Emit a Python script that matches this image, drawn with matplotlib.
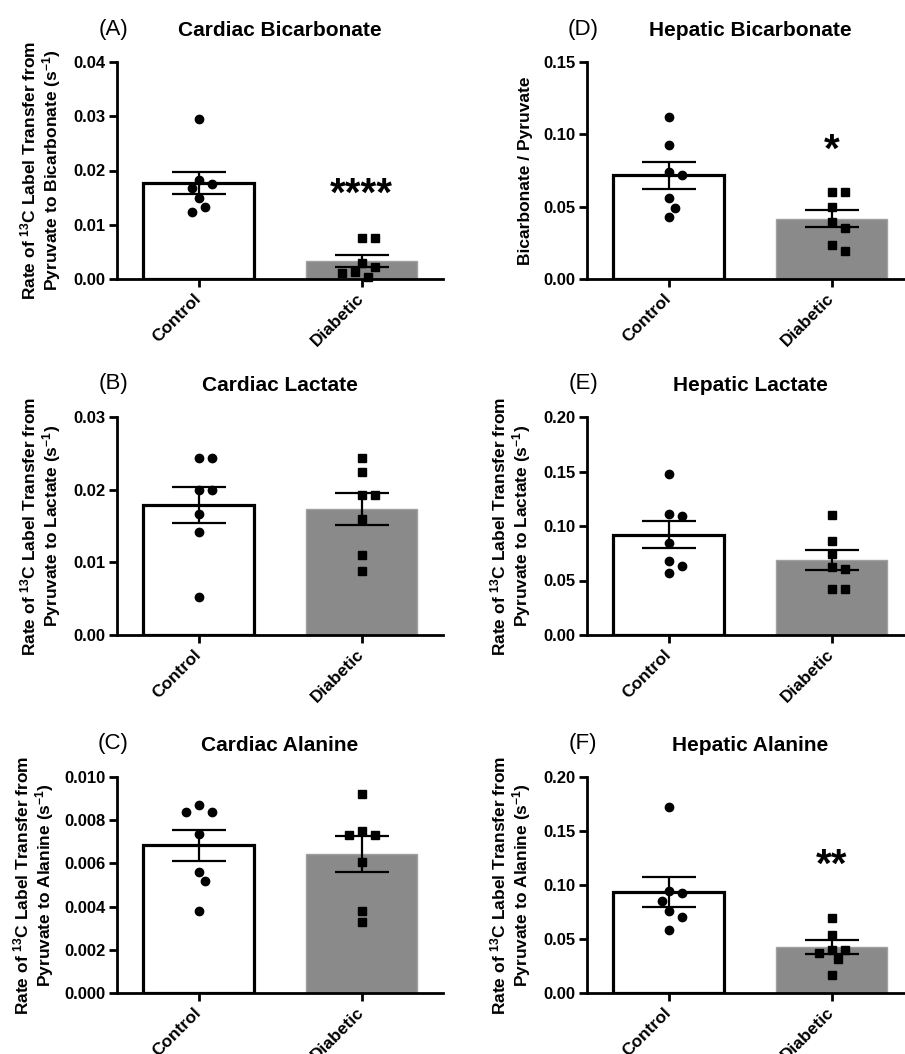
import matplotlib
matplotlib.use('Agg')
import matplotlib.pyplot as plt
from matplotlib.ticker import FormatStrFormatter
import numpy as np

plt.rcParams['font.family'] = ['Liberation Sans', 'DejaVu Sans']
plt.rcParams['font.weight'] = 'bold'
plt.rcParams['mathtext.fontset'] = 'custom'
plt.rcParams['mathtext.rm'] = 'Liberation Sans:bold'
plt.rcParams['mathtext.bf'] = 'Liberation Sans:bold'
plt.rcParams['mathtext.it'] = 'Liberation Sans:bold'
plt.rcParams['mathtext.default'] = 'bf'

groups = ['Control', 'Diabetic']

# ---- data ----
card_bicarb_ctrl = [0.0295, 0.0183, 0.0175, 0.0167, 0.0149, 0.0133, 0.0123]
card_bicarb_diab = [0.0076, 0.0076, 0.0029, 0.0023, 0.0012, 0.0011, 0.0003]
card_bicarb_mean = [0.0177, 0.0034]
card_bicarb_sem = [0.0021, 0.0011]

card_lac_ctrl = [0.0244, 0.0244, 0.0199, 0.0199, 0.0167, 0.0142, 0.0052]
card_lac_diab = [0.0243, 0.0224, 0.0193, 0.0193, 0.0160, 0.0110, 0.0088]
card_lac_mean = [0.0179, 0.0174]
card_lac_sem = [0.0025, 0.0022]

card_ala_ctrl = [0.00871, 0.0084, 0.0084, 0.00737, 0.00558, 0.00518, 0.0038]
card_ala_diab = [0.00922, 0.0075, 0.00731, 0.00731, 0.00608, 0.0038, 0.00329]
card_ala_mean = [0.00683, 0.00643]
card_ala_sem = [0.00073, 0.00082]

hep_bicarb_ctrl = [0.112, 0.0926, 0.0742, 0.0717, 0.0558, 0.0493, 0.0431]
hep_bicarb_diab = [0.0599, 0.0599, 0.0498, 0.0394, 0.0355, 0.0235, 0.0191]
hep_bicarb_mean = [0.0717, 0.0417]
hep_bicarb_sem = [0.0092, 0.0061]

hep_lac_ctrl = [0.1479, 0.1106, 0.1093, 0.0842, 0.0683, 0.0634, 0.0573]
hep_lac_diab = [0.110, 0.0864, 0.0744, 0.0622, 0.0603, 0.042, 0.042]
hep_lac_mean = [0.0919, 0.0689]
hep_lac_sem = [0.0125, 0.0092]

hep_ala_ctrl = [0.1723, 0.0945, 0.0923, 0.0855, 0.0763, 0.0702, 0.0585]
hep_ala_diab = [0.0698, 0.0538, 0.0394, 0.0394, 0.0375, 0.0314, 0.0166]
hep_ala_mean = [0.0932, 0.0422]
hep_ala_sem = [0.014, 0.0065]

panels = [
    dict(letter='(A)', title='Cardiac Bicarbonate', ctrl=card_bicarb_ctrl, diab=card_bicarb_diab,
         mean=card_bicarb_mean, sem=card_bicarb_sem, ymax=0.04, step=0.01, fmt='%.2f',
         ylabel='Rate of $^{13}$C Label Transfer from\nPyruvate to Bicarbonate (s$^{-1}$)',
         stars='****', star_y=0.0155, col=0, row=0, lx=-0.165),
    dict(letter='(B)', title='Cardiac Lactate', ctrl=card_lac_ctrl, diab=card_lac_diab,
         mean=card_lac_mean, sem=card_lac_sem, ymax=0.03, step=0.01, fmt='%.2f',
         ylabel='Rate of $^{13}$C Label Transfer from\nPyruvate to Lactate (s$^{-1}$)',
         stars=None, star_y=None, col=0, row=1, lx=-0.165),
    dict(letter='(C)', title='Cardiac Alanine', ctrl=card_ala_ctrl, diab=card_ala_diab,
         mean=card_ala_mean, sem=card_ala_sem, ymax=0.010, step=0.002, fmt='%.3f',
         ylabel='Rate of $^{13}$C Label Transfer from\nPyruvate to Alanine (s$^{-1}$)',
         stars=None, star_y=None, col=0, row=2, lx=-0.187),
    dict(letter='(D)', title='Hepatic Bicarbonate', ctrl=hep_bicarb_ctrl, diab=hep_bicarb_diab,
         mean=hep_bicarb_mean, sem=hep_bicarb_sem, ymax=0.15, step=0.05, fmt='%.2f',
         ylabel='Bicarbonate / Pyruvate',
         stars='*', star_y=0.0887, col=1, row=0, lx=-0.166),
    dict(letter='(E)', title='Hepatic Lactate', ctrl=hep_lac_ctrl, diab=hep_lac_diab,
         mean=hep_lac_mean, sem=hep_lac_sem, ymax=0.20, step=0.05, fmt='%.2f',
         ylabel='Rate of $^{13}$C Label Transfer from\nPyruvate to Lactate (s$^{-1}$)',
         stars=None, star_y=None, col=1, row=1, lx=-0.166),
    dict(letter='(F)', title='Hepatic Alanine', ctrl=hep_ala_ctrl, diab=hep_ala_diab,
         mean=hep_ala_mean, sem=hep_ala_sem, ymax=0.20, step=0.05, fmt='%.2f',
         ylabel='Rate of $^{13}$C Label Transfer from\nPyruvate to Alanine (s$^{-1}$)',
         stars='**', star_y=0.118, col=1, row=2, lx=-0.166),
]

W, H = 905, 1054
fig = plt.figure(figsize=(W / 100, H / 100), dpi=100)

col_x = [117, 587]
ax_w = 326
row_top = [62, 417, 777]
row_bot = [279, 635, 993]


def swarm_offsets(vals, px_per_unit_y, step_px=6.5, min_d=10.5):
    placed = []
    order = sorted(range(len(vals)), key=lambda i: -vals[i])
    res = [0.0] * len(vals)
    cands = [0]
    for j in range(1, 20):
        cands += [j, -j]
    for i in order:
        y = vals[i] * px_per_unit_y
        for c in cands:
            x = c * step_px
            if all((x - px) ** 2 + (y - py) ** 2 >= min_d ** 2 for px, py in placed):
                placed.append((x, y))
                res[i] = x
                break
    return res


for p in panels:
    x0 = col_x[p['col']]
    top = row_top[p['row']]
    bot = row_bot[p['row']]
    ax = fig.add_axes([x0 / W, 1 - bot / H, ax_w / W, (bot - top) / H])
    ax_h_px = bot - top
    xpos = np.arange(len(groups))
    ax.bar(xpos, p['mean'], width=0.68, color=['white', '#8a8a8a'],
           edgecolor=['black', '#a0a0a0'], linewidth=[2.3, 1.0], zorder=1)
    ax.errorbar(xpos, p['mean'], yerr=p['sem'], fmt='none', ecolor='black',
                elinewidth=1.6, capsize=19.5, capthick=1.6, zorder=3)
    px_per_unit_y = ax_h_px / p['ymax']
    px_per_unit_x = ax_w / 2.0
    for gi, (vals, mk, ms) in enumerate([(p['ctrl'], 'o', 6.0), (p['diab'], 's', 5.4)]):
        offs = swarm_offsets(vals, px_per_unit_y)
        xs = [gi + o / px_per_unit_x for o in offs]
        ax.plot(xs, vals, linestyle='none', marker=mk, markersize=ms,
                color='black', zorder=4, clip_on=False)
    ax.set_xlim(-0.5, 1.5)
    ax.set_ylim(0, p['ymax'])
    ax.set_yticks(np.arange(0, p['ymax'] + p['step'] / 2, p['step']))
    ax.yaxis.set_major_formatter(FormatStrFormatter(p['fmt']))
    ax.set_xticks(xpos)
    ax.set_xticklabels(groups, rotation=45, ha='right', va='center',
                       rotation_mode='anchor', fontsize=12.5, fontweight='bold')
    for s in ['top', 'right']:
        ax.spines[s].set_visible(False)
    for s in ['left', 'bottom']:
        ax.spines[s].set_linewidth(2.0)
    ax.tick_params(axis='both', width=2.0, length=5.5, labelsize=12)
    ax.tick_params(axis='x', pad=7, labelsize=12.5)
    ax.tick_params(axis='y', pad=3)
    for lab in ax.get_yticklabels():
        lab.set_fontweight('bold')
    ax.set_ylabel(p['ylabel'], fontsize=12.5, fontweight='bold', linespacing=1.12)
    ax.yaxis.set_label_coords(p['lx'], 0.5)
    ax.set_title(p['title'], fontsize=15, fontweight='bold', pad=19)
    ax.text(-0.012, 1.0 + 33 / ax_h_px, p['letter'], transform=ax.transAxes,
            fontsize=16, fontweight='normal', ha='center', va='center')
    if p['stars']:
        ax.text(1, p['star_y'], p['stars'], fontsize=29, fontweight='bold',
                ha='center', va='center', zorder=5)

fig.savefig('out.png', dpi=100)
